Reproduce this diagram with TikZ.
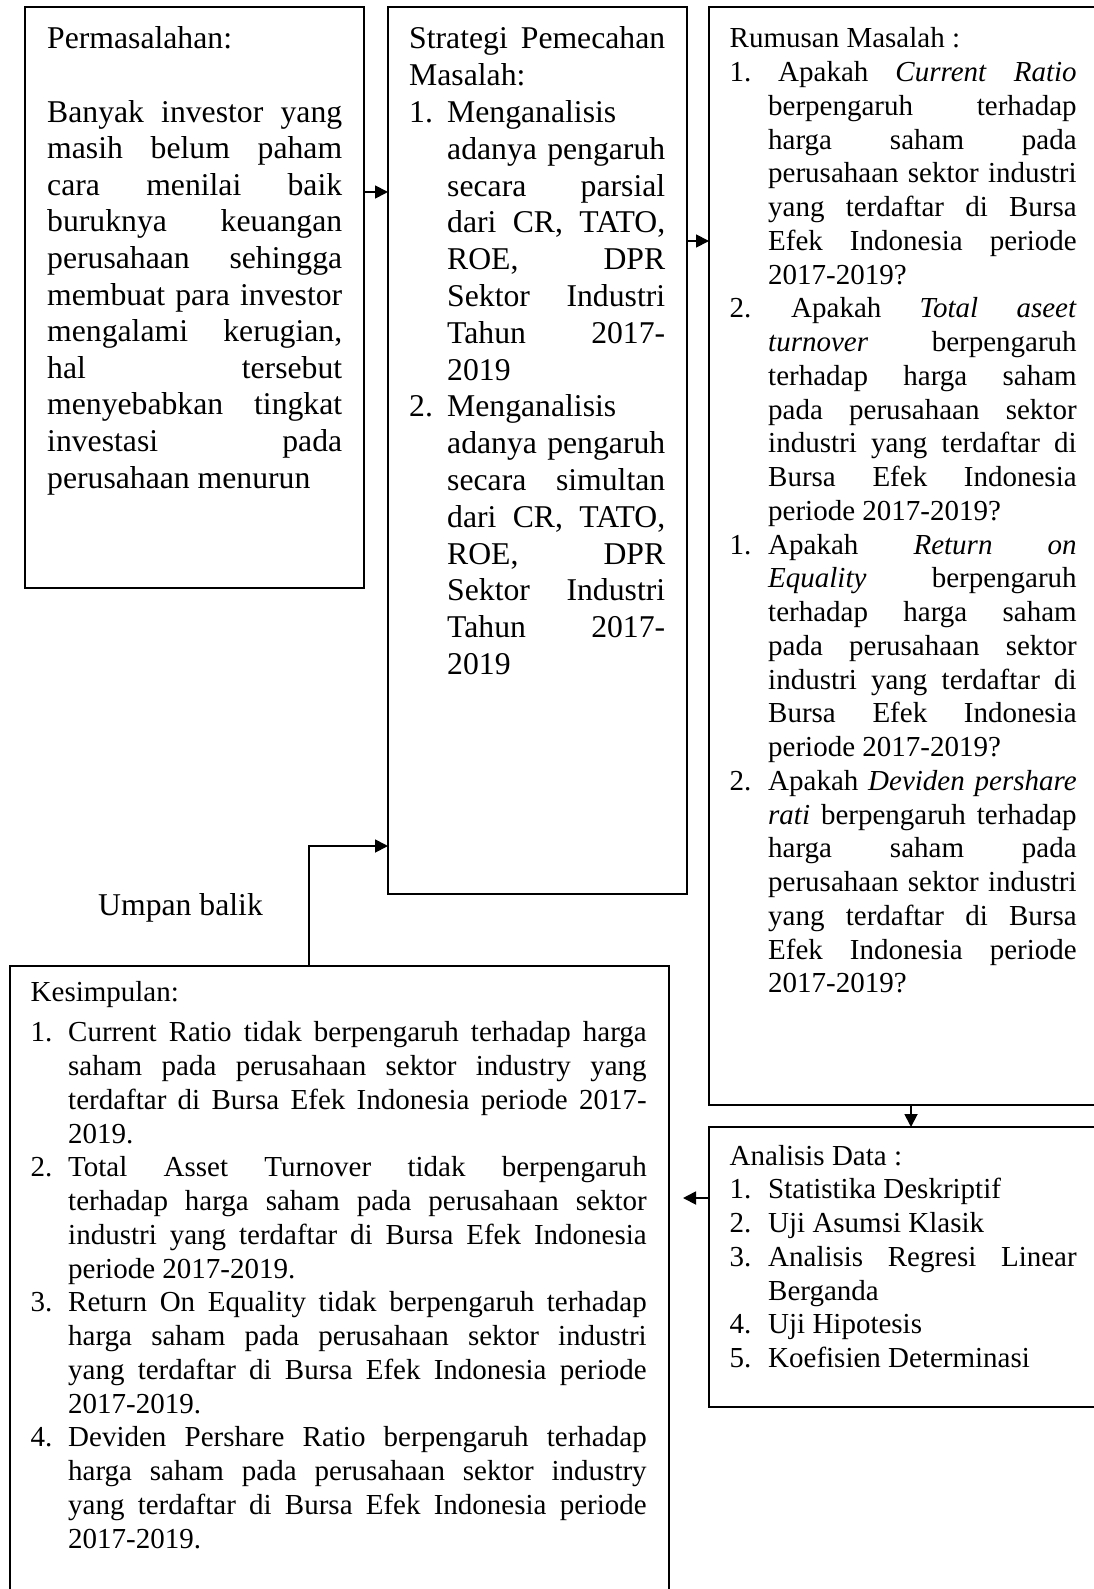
\documentclass[tikz,border=0pt]{standalone}
\usepackage{fontspec}
\setmainfont{Liberation Serif}
\usetikzlibrary{arrows.meta}
\newlength\numw
\newcommand\jline[1]{\makebox[\linewidth][s]{#1}\par}
\newcommand\lline[1]{#1\par}
\newcommand\ijline[2]{\makebox[\numw][l]{#1}\makebox[\dimexpr\linewidth-\numw\relax][s]{#2}\par}
\newcommand\illine[2]{\makebox[\numw][l]{#1}#2\par}
\newcommand\bigfont[1]{\fontsize{31.7}{#1}\selectfont}
\newcommand\smallfont{\fontsize{29}{33.75}\selectfont}
\begin{document}
\begin{tikzpicture}[x=1pt,y=-1pt,
  box/.style={draw, line width=1.8pt, inner sep=0pt, outer sep=0pt, anchor=north west},
  txt/.style={anchor=base west, inner sep=0pt},
  conn/.style={line width=1.8pt, -{Triangle[length=13pt,width=13pt]}}]
\useasboundingbox (0,0) rectangle (1093,1589);
% boxes
\node[box, minimum width=339pt, minimum height=581pt] (b1) at (25,7) {};
\node[box, minimum width=299pt, minimum height=887pt] (b2) at (388,7) {};
\node[box, minimum width=401pt, minimum height=1098pt] (b3) at (709,7) {};
\node[box, minimum width=401pt, minimum height=280pt] (b4) at (709,1127) {};
\node[box, minimum width=659pt, minimum height=700pt] (b5) at (10,966) {};
% texts
\node[txt] (t1) at (47,49) {\parbox[t]{295pt}{\bigfont{36.6}
\lline{Permasalahan:}
\lline{\mbox{}}
\jline{Banyak investor yang}
\jline{masih belum paham}
\jline{cara menilai baik}
\jline{buruknya keuangan}
\jline{perusahaan sehingga}
\jline{membuat para investor}
\jline{mengalami kerugian,}
\jline{hal tersebut}
\jline{menyebabkan tingkat}
\jline{investasi pada}
\lline{perusahaan menurun}}};
\node[txt] (t2) at (409,49) {\parbox[t]{256pt}{\bigfont{36.8}\setlength\numw{38pt}
\jline{Strategi Pemecahan}
\lline{Masalah:}
\illine{1.}{Menganalisis}
\ijline{}{adanya pengaruh}
\ijline{}{secara parsial}
\ijline{}{dari CR, TATO,}
\ijline{}{ROE, DPR}
\ijline{}{Sektor Industri}
\ijline{}{Tahun 2017-}
\illine{}{2019}
\illine{2.}{Menganalisis}
\ijline{}{adanya pengaruh}
\ijline{}{secara simultan}
\ijline{}{dari CR, TATO,}
\ijline{}{ROE, DPR}
\ijline{}{Sektor Industri}
\ijline{}{Tahun 2017-}
\illine{}{2019}}};
\node[txt] (t3) at (729.5,48) {\parbox[t]{347pt}{\smallfont\setlength\numw{38.5pt}
\lline{Rumusan Masalah :}
\ijline{1.}{\hspace{10pt}Apakah \textit{Current} \textit{Ratio}}
\ijline{}{berpengaruh terhadap}
\ijline{}{harga saham pada}
\ijline{}{perusahaan sektor industri}
\ijline{}{yang terdaftar di Bursa}
\ijline{}{Efek Indonesia periode}
\illine{}{2017-2019?}
\ijline{2.}{\hspace{23pt}Apakah \textit{Total} \textit{aseet}}
\ijline{}{\textit{turnover} berpengaruh}
\ijline{}{terhadap harga saham}
\ijline{}{pada perusahaan sektor}
\ijline{}{industri yang terdaftar di}
\ijline{}{Bursa Efek Indonesia}
\illine{}{periode 2017-2019?}
\ijline{1.}{Apakah \textit{Return} \textit{on}}
\ijline{}{\textit{Equality} berpengaruh}
\ijline{}{terhadap harga saham}
\ijline{}{pada perusahaan sektor}
\ijline{}{industri yang terdaftar di}
\ijline{}{Bursa Efek Indonesia}
\illine{}{periode 2017-2019?}
\ijline{2.}{Apakah \textit{Deviden} \textit{pershare}}
\ijline{}{\textit{rati} berpengaruh terhadap}
\ijline{}{harga saham pada}
\ijline{}{perusahaan sektor industri}
\ijline{}{yang terdaftar di Bursa}
\ijline{}{Efek Indonesia periode}
\illine{}{2017-2019?}}};
\node[txt] (t4) at (729.5,1165) {\parbox[t]{347pt}{\smallfont\setlength\numw{38.5pt}
\lline{Analisis Data :}
\illine{1.}{Statistika Deskriptif}
\illine{2.}{Uji Asumsi Klasik}
\ijline{3.}{Analisis Regresi Linear}
\illine{}{Berganda}
\illine{4.}{Uji Hipotesis}
\illine{5.}{Koefisien Determinasi}}};
\node[txt] (t5) at (30.5,1001) {\parbox[t]{616pt}{\smallfont\setlength\numw{37.5pt}
\lline{Kesimpulan:}
\vspace{7pt}
\ijline{1.}{Current Ratio tidak berpengaruh terhadap harga}
\ijline{}{saham pada perusahaan sektor industry yang}
\ijline{}{terdaftar di Bursa Efek Indonesia periode 2017-}
\illine{}{2019.}
\ijline{2.}{Total Asset Turnover tidak berpengaruh}
\ijline{}{terhadap harga saham pada perusahaan sektor}
\ijline{}{industri yang terdaftar di Bursa Efek Indonesia}
\illine{}{periode 2017-2019.}
\ijline{3.}{Return On Equality tidak berpengaruh terhadap}
\ijline{}{harga saham pada perusahaan sektor industri}
\ijline{}{yang terdaftar di Bursa Efek Indonesia periode}
\illine{}{2017-2019.}
\ijline{4.}{Deviden Pershare Ratio berpengaruh terhadap}
\ijline{}{harga saham pada perusahaan sektor industry}
\ijline{}{yang terdaftar di Bursa Efek Indonesia periode}
\illine{}{2017-2019.}}};
\node[txt] (lab) at (98,915) {\bigfont{36.6}Umpan balik};
% connectors
\coordinate (a1) at (0,192);
\coordinate (a2) at (0,241);
\coordinate (a3) at (911,0);
\coordinate (a4) at (683,1198);
\coordinate (fb) at (309,846);
\draw[conn] (b1.east |- a1) -- (b2.west |- a1);
\draw[conn] (b2.east |- a2) -- (b3.west |- a2);
\draw[conn] (b3.south -| a3) -- (b4.north -| a3);
\draw[conn] (b4.west |- a4) -- (a4);
\draw[conn] (b5.north -| fb) -- (fb) -- (b2.west |- fb);
\end{tikzpicture}
\end{document}
